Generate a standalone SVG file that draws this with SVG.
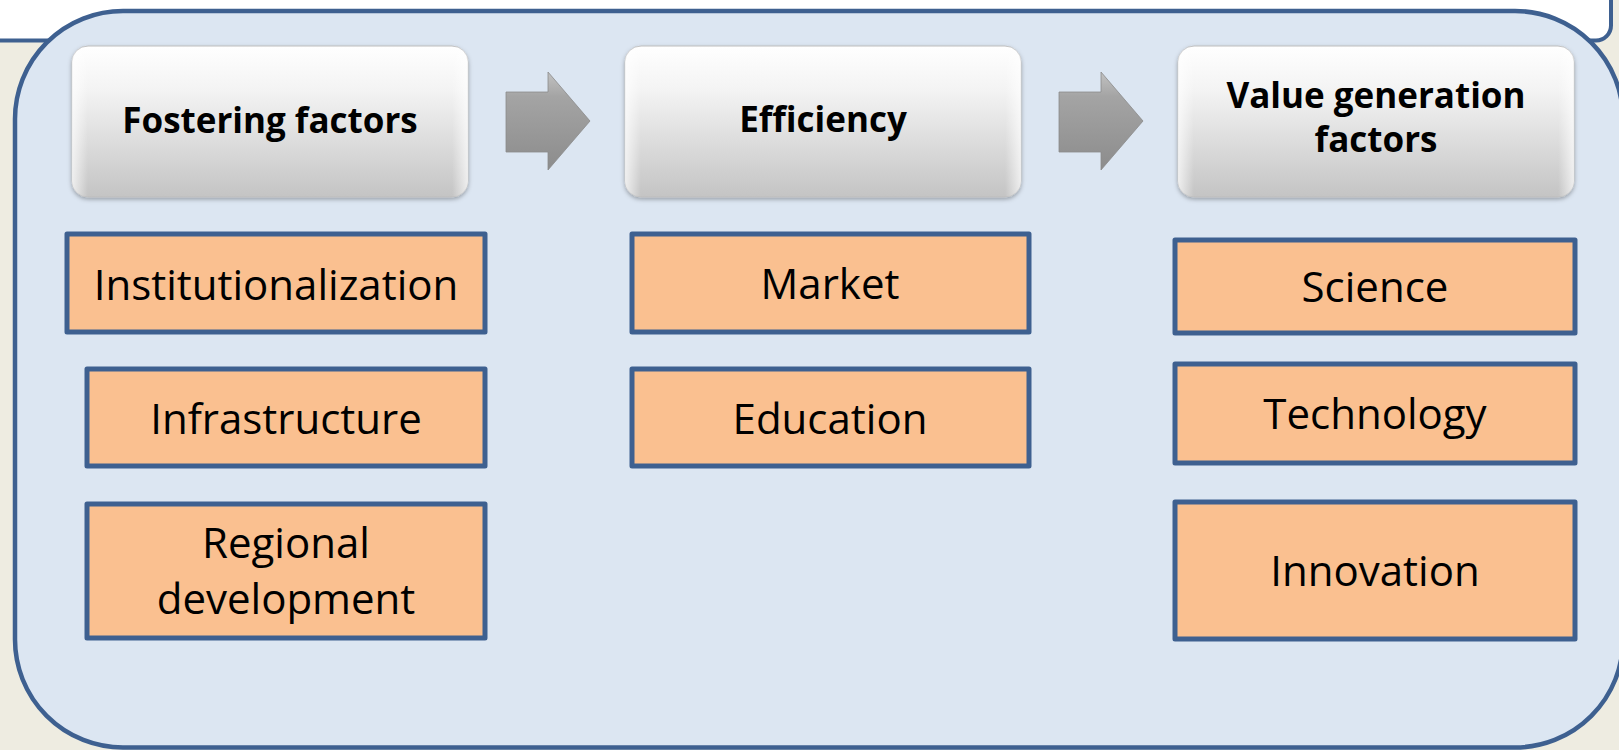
<svg xmlns="http://www.w3.org/2000/svg" width="1619" height="750" viewBox="0 0 1619 750">
<defs>
<linearGradient id="hdrGrad" x1="0" y1="0" x2="0" y2="1">
<stop offset="0" stop-color="#FFFFFF"/>
<stop offset="0.3" stop-color="#F3F3F3"/>
<stop offset="1" stop-color="#C4C4C4"/>
</linearGradient>
<linearGradient id="hdrSide" x1="0" y1="0" x2="1" y2="0">
<stop offset="0" stop-color="#FFFFFF" stop-opacity="0.7"/>
<stop offset="0.04" stop-color="#FFFFFF" stop-opacity="0"/>
<stop offset="0.96" stop-color="#FFFFFF" stop-opacity="0"/>
<stop offset="1" stop-color="#FFFFFF" stop-opacity="0.7"/>
</linearGradient>
<linearGradient id="arrGrad" x1="0" y1="0" x2="0" y2="1">
<stop offset="0" stop-color="#C2C2C2"/>
<stop offset="0.25" stop-color="#A4A4A4"/>
<stop offset="1" stop-color="#8C8C8C"/>
</linearGradient>
<filter id="shadow" x="-5%" y="-5%" width="110%" height="115%">
<feDropShadow dx="0" dy="2" stdDeviation="2" flood-color="#000000" flood-opacity="0.3"/>
</filter>
</defs>
<style>
.hdr{fill:url(#hdrGrad);stroke:#BDBDBD;stroke-width:1;filter:url(#shadow)}
.hdrs{fill:url(#hdrSide);stroke:none}
.htxt{font-family:"Open Sans","Liberation Sans",sans-serif;font-weight:bold;font-size:35px;fill:#000;text-anchor:middle}
.box{fill:#FAC090;stroke:#3E6090;stroke-width:5;stroke-linejoin:round}
.btxt{font-family:"Open Sans","Liberation Sans",sans-serif;font-size:42px;fill:#000;text-anchor:middle}
.arr{fill:url(#arrGrad);stroke:#8A8A8A;stroke-width:0.8}
</style>
<rect x="0" y="0" width="1619" height="750" fill="#EEECE1"/>
<g id="title-box">
<rect x="-14" y="-100" width="1625" height="140.5" rx="15" fill="#FFFFFF" stroke="#3E6090" stroke-width="4"/>
</g>
<g id="container">
<rect x="15" y="11" width="1608" height="736.5" rx="108" fill="#DCE6F2" stroke="#3E6090" stroke-width="4.5"/>
</g>
<g id="connectors">
<polygon class="arr" points="506,92 548,92 548,72 590,121 548,170 548,152 506,152"/>
<polygon class="arr" points="1059,92 1101,92 1101,72 1143,121 1101,170 1101,152 1059,152"/>
</g>
<g id="node-fostering">
<rect class="hdr" x="72" y="46" width="396" height="151" rx="16"/>
<rect class="hdrs" x="72" y="46" width="396" height="151" rx="16"/>
<text class="htxt" x="270" y="133">Fostering factors</text>
</g>
<g id="node-efficiency">
<rect class="hdr" x="625" y="46" width="396" height="151" rx="16"/>
<rect class="hdrs" x="625" y="46" width="396" height="151" rx="16"/>
<text class="htxt" x="823" y="132">Efficiency</text>
</g>
<g id="node-value">
<rect class="hdr" x="1178" y="46" width="396" height="151" rx="16"/>
<rect class="hdrs" x="1178" y="46" width="396" height="151" rx="16"/>
<text class="htxt" x="1376" y="108">Value generation</text>
<text class="htxt" x="1376" y="152">factors</text>
</g>
<g id="node-institutionalization">
<rect class="box" x="67" y="234" width="418" height="98"/>
<text class="btxt" x="276" y="300">Institutionalization</text>
</g>
<g id="node-infrastructure">
<rect class="box" x="87" y="369" width="398" height="97"/>
<text class="btxt" x="286" y="434">Infrastructure</text>
</g>
<g id="node-regional">
<rect class="box" x="87" y="504" width="398" height="134"/>
<text class="btxt" x="286" y="558">Regional</text>
<text class="btxt" x="286" y="614">development</text>
</g>
<g id="node-market">
<rect class="box" x="632" y="234" width="397" height="98"/>
<text class="btxt" x="830" y="299">Market</text>
</g>
<g id="node-education">
<rect class="box" x="632" y="369" width="397" height="97"/>
<text class="btxt" x="830" y="434">Education</text>
</g>
<g id="node-science">
<rect class="box" x="1175" y="240" width="400" height="93"/>
<text class="btxt" x="1375" y="302">Science</text>
</g>
<g id="node-technology">
<rect class="box" x="1175" y="364" width="400" height="99"/>
<text class="btxt" x="1375" y="429">Technology</text>
</g>
<g id="node-innovation">
<rect class="box" x="1175" y="502" width="400" height="137"/>
<text class="btxt" x="1375" y="586">Innovation</text>
</g>
</svg>
